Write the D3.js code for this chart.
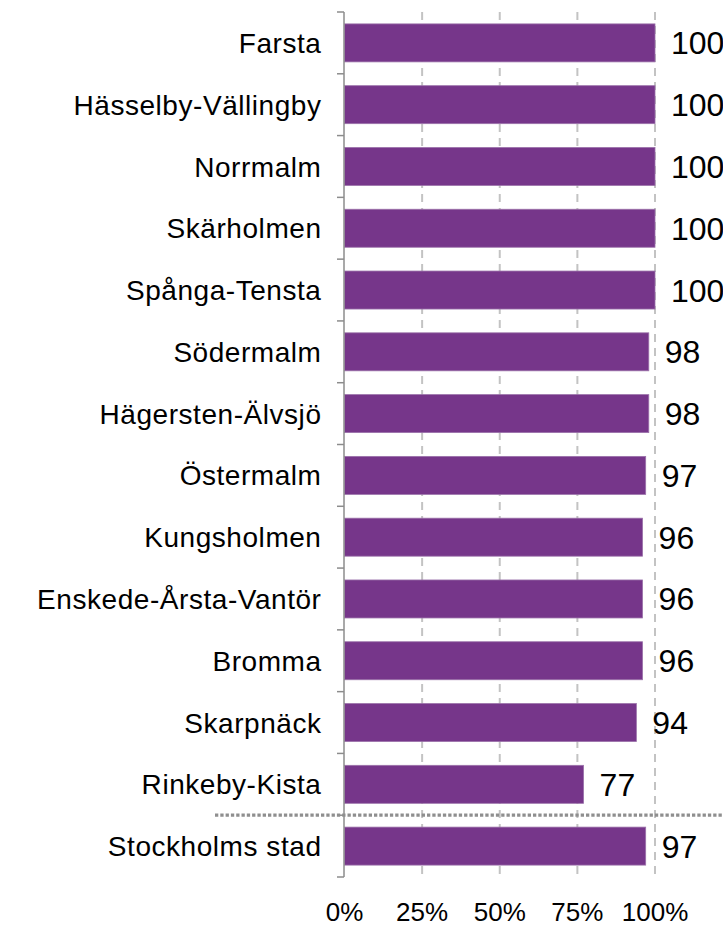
<!DOCTYPE html>
<html>
<head>
<meta charset="utf-8">
<script src="https://cdnjs.cloudflare.com/ajax/libs/d3/7.8.5/d3.min.js"></script>
<style>
	body { margin: 0; background: #fff; }
	text { font-family: "Liberation Sans", Arial, sans-serif; fill: #000; }
</style>
</head>
<body>
<div id="chart"></div>
<script>
// andel per stadsdel

var districts = ['Farsta', 'Hässelby-Vällingby', 'Norrmalm', 'Skärholmen', 'Spånga-Tensta',
				 'Södermalm', 'Hägersten-Älvsjö', 'Östermalm', 'Kungsholmen', 'Enskede-Årsta-Vantör',
				 'Bromma', 'Skarpnäck', 'Rinkeby-Kista', 'Stockholms stad']
var shares = [100, 100, 100, 100, 100, 98, 98, 97, 96, 96, 96, 94, 77, 97]
var tickValues = [0, 25, 50, 75, 100]
var tickLabels = ['0%', '25%', '50%', '75%', '100%']

var width = 723,
	height = 926,
	plotTop = 12,
	plotBottom = 877

var yScale = d3.scaleBand()
			   .domain(districts)
			   .range([plotTop, plotBottom])
			   .paddingInner(.385)
			   .paddingOuter(.1925)

var xScale = d3.scaleLinear()
			   .domain([0, 100])
			   .range([344.5, 655])

var svg = d3.select('#chart')
  .append('svg')
	  .attr('width', width)
	  .attr('height', height)

// gridlines behind the bars
svg.selectAll('line.grid').data(tickValues.slice(1))
  .enter().append('line')
	.classed('grid', true)
	.attr('x1', function(d){ return xScale(d) })
	.attr('x2', function(d){ return xScale(d) })
	.attr('y1', plotTop)
	.attr('y2', plotBottom)
	.style('stroke', '#c3c3c3')
	.style('stroke-width', 2)
	.style('stroke-dasharray', '8,6')

svg.selectAll('rect.bar').data(shares)
  .enter().append('rect')
	.classed('bar', true)
	.attr('x', xScale(0))
	.attr('y', function(d, i){ return yScale(districts[i]) })
	.attr('width', function(d){ return xScale(d) - xScale(0) })
	.attr('height', yScale.bandwidth())
	.style('fill', '#76368a')
	.style('stroke', '#9b72aa')
	.style('stroke-width', 0.8)

// left axis with outward ticks at band edges
var step = yScale.step()
svg.append('line')
	.attr('x1', 344).attr('x2', 344)
	.attr('y1', plotTop).attr('y2', plotBottom)
	.style('stroke', '#8c8c8c')
	.style('stroke-width', 1.5)

svg.selectAll('line.ytick').data(d3.range(0, districts.length + 1))
  .enter().append('line')
	.classed('ytick', true)
	.attr('x1', 337).attr('x2', 344)
	.attr('y1', function(d){ return plotTop + d * step })
	.attr('y2', function(d){ return plotTop + d * step })
	.style('stroke', '#8c8c8c')
	.style('stroke-width', 1.5)

// dotted separator before the city total
svg.append('line')
	.attr('x1', 215).attr('x2', width)
	.attr('y1', plotTop + (districts.length - 1) * step)
	.attr('y2', plotTop + (districts.length - 1) * step)
	.style('stroke', '#8f8f8f')
	.style('stroke-width', 3.3)
	.style('stroke-dasharray', '3.3,2')

svg.selectAll('text.cat').data(districts)
  .enter().append('text')
	.classed('cat', true)
	.text(function(d){ return d })
	.attr('text-anchor', 'end')
	.attr('x', 321.5)
	.attr('y', function(d){ return yScale(d) + yScale.bandwidth() / 2 })
	.attr('dy', '.36em')
	.style('font-size', '28px')
	.style('letter-spacing', '0.55px')

svg.selectAll('text.val').data(shares)
  .enter().append('text')
	.classed('val', true)
	.text(function(d){ return d })
	.attr('x', function(d){ return xScale(d) + 16 })
	.attr('y', function(d, i){ return yScale(districts[i]) + yScale.bandwidth() / 2 })
	.attr('dy', '.36em')
	.style('font-size', '32px')

svg.selectAll('text.xtick').data(tickValues)
  .enter().append('text')
	.classed('xtick', true)
	.text(function(d, i){ return tickLabels[i] })
	.attr('text-anchor', 'middle')
	.attr('x', function(d){ return xScale(d) })
	.attr('y', 921)
	.style('font-size', '26px')
</script>
</body>
</html>
